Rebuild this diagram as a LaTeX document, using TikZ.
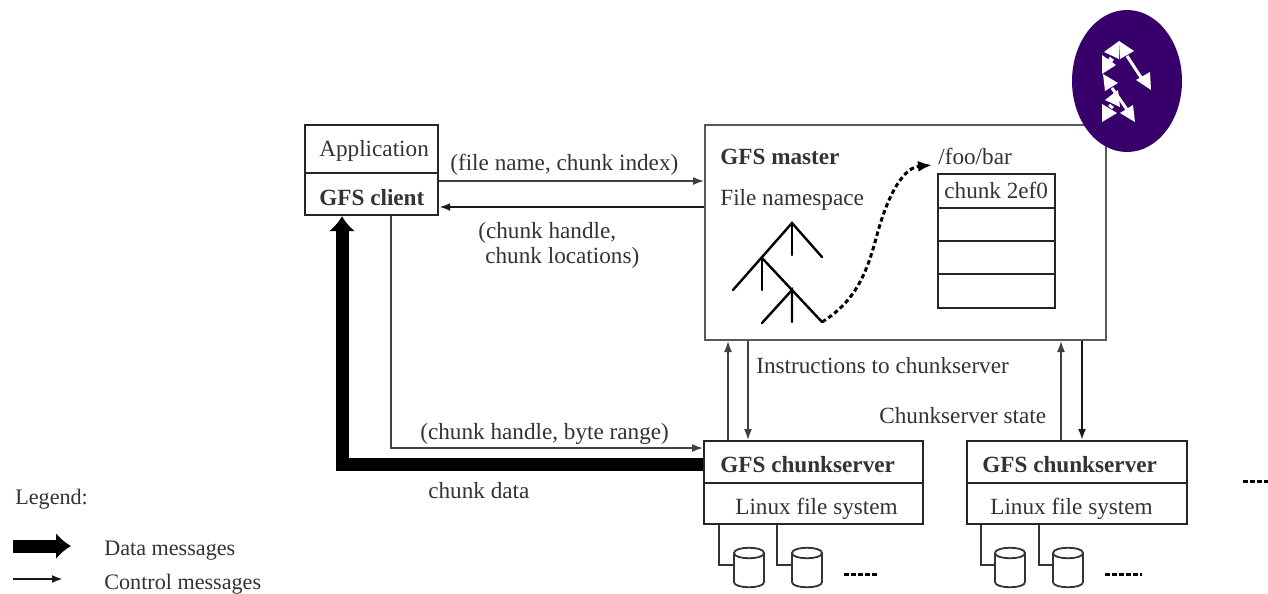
\documentclass[tikz,border=0pt]{standalone}
\usepackage{fontspec}
\setmainfont{Liberation Serif}
\usetikzlibrary{arrows.meta,calc}
\definecolor{logo}{HTML}{38006B}
\definecolor{ink}{HTML}{333333}
\def\u{0.02cm}
\tikzset{
  x=0.02cm,y=-0.02cm,
  boxs/.style={draw=black!85,line width=2.2*\u,fill=white,inner sep=0pt,anchor=north west,text=ink},
  txt/.style={text=ink,inner sep=0pt,anchor=west,font=\fontsize{13.2}{13}\selectfont},
  txb/.style={txt,font=\fontsize{13.2}{13}\selectfont\bfseries},
  leg/.style={txt,font=\fontsize{12.6}{13}\selectfont},
  ctl/.style={draw=black!75,line width=1.6*\u,-{Latex[length=11*\u,width=8*\u]}},
  ctlb/.style={ctl,draw=black!90,line width=2.4*\u},
  dat/.style={draw=black,line width=13*\u,-{Latex[length=15*\u,width=27*\u]}},
  wire/.style={draw=black!80,line width=2*\u},
  diskl/.style={draw=black!80,line width=1.8*\u,fill=white},
  diskn/.style={draw=none,inner sep=0pt,minimum width=30*\u,minimum height=39*\u},
  tree/.style={draw=black,line width=2.4*\u,line cap=round},
  dots/.style={draw=black,line width=3*\u,dash pattern=on 5*\u off 2*\u},
  wtri/.style={fill=white,draw=none},
  wline/.style={draw=white,line width=3*\u}
}
\newcommand{\diskat}[2]{% name, centre x
  \node[diskn] (#1) at (#2,567.5) {};
  \draw[diskl] (#2-15,553) -- (#2-15,582)
     .. controls (#2-15,589) and (#2+15,589) .. (#2+15,582)
     -- (#2+15,553)
     .. controls (#2+15,546) and (#2-15,546) .. (#2-15,553)
     .. controls (#2-15,560) and (#2+15,560) .. (#2+15,553);
}
\begin{document}
\begin{tikzpicture}
\useasboundingbox (0,0) rectangle (1268,593);
\fill[white] (0,0) rectangle (1268,593);
% boxes
\node[boxs,minimum width=133*\u,minimum height=48*\u] (app) at (304,124) {};
\node[boxs,minimum width=133*\u,minimum height=42*\u] (client) at (304,172) {};
\node[boxs,minimum width=401*\u,minimum height=215*\u,draw=black!65,line width=2*\u] (master) at (704,124) {};
\node[boxs,minimum width=219*\u,minimum height=42*\u] (cs1) at (703,440) {};
\node[boxs,minimum width=219*\u,minimum height=41*\u] (fs1) at (703,482) {};
\node[boxs,minimum width=220*\u,minimum height=42*\u] (cs2) at (966,440) {};
\node[boxs,minimum width=220*\u,minimum height=41*\u] (fs2) at (966,482) {};
% chunk table
\node[boxs,minimum width=117*\u,minimum height=34*\u] (r1) at (937,173) {};
\node[boxs,minimum width=117*\u,minimum height=33*\u] (r2) at (937,207) {};
\node[boxs,minimum width=117*\u,minimum height=33*\u] (r3) at (937,240) {};
\node[boxs,minimum width=117*\u,minimum height=34*\u] (r4) at (937,273) {};
% client-master
\coordinate (ya) at (0,181);
\coordinate (yb) at (0,207);
\draw[ctl] (client.east |- ya) -- (master.west |- ya);
\draw[ctlb] (master.west |- yb) -- (client.east |- yb);
% client-chunkserver
\coordinate (xc) at (391,0);
\coordinate (yc) at (0,448);
\coordinate (xd) at (342,0);
\coordinate (yd) at (0,464);
\draw[ctl] (xc |- client.south) -- (xc |- yc) -- (cs1.west |- yc);
\draw[dat] (cs1.west |- yd) -- (xd |- yd) -- (xd |- client.south);
% master-chunkserver
\coordinate (x1) at (728,0);
\coordinate (x2) at (748,0);
\coordinate (x3) at (1061,0);
\coordinate (x4) at (1082,0);
\draw[ctl] (x1 |- cs1.north) -- (x1 |- master.south);
\draw[ctl] (x2 |- master.south) -- (x2 |- cs1.north);
\draw[ctl] (x3 |- cs2.north) -- (x3 |- master.south);
\draw[ctlb] (x4 |- master.south) -- (x4 |- cs2.north);
% disks
\diskat{d1}{749}
\diskat{d2}{807}
\diskat{d3}{1010}
\diskat{d4}{1068}
\coordinate (yw) at (0,565);
\coordinate (w1) at (719,0);
\coordinate (w2) at (777,0);
\coordinate (w3) at (981,0);
\coordinate (w4) at (1039,0);
\draw[wire] (w1 |- fs1.south) -- (w1 |- yw) -- (d1.west |- yw);
\draw[wire] (w2 |- fs1.south) -- (w2 |- yw) -- (d2.west |- yw);
\draw[wire] (w3 |- fs2.south) -- (w3 |- yw) -- (d3.west |- yw);
\draw[wire] (w4 |- fs2.south) -- (w4 |- yw) -- (d4.west |- yw);
\draw[dots] (844,574) -- (878,574);
\draw[dots] (1105,574) -- (1142,574);
\draw[dots] (1243,481) -- (1268,481);
% tree
\draw[tree] (733,290) -- (792,223) -- (822,257);
\draw[tree] (792,223) -- (792,255);
\draw[tree] (762,258) -- (762,290);
\draw[tree] (762,258) -- (822,322);
\draw[tree] (762,323) -- (792,290) -- (792,322);
\draw[black,line width=3*\u,dash pattern=on 4.5*\u off 3*\u,-{Latex[length=14*\u,width=11*\u]}]
  (822,322) .. controls (858,300) and (868,268) .. (877,235)
  .. controls (885,205) and (900,168) .. (932,165);
% texts
\node[txt] (t0a) at (319,151) {Application};
\node[txb] (t0b) at (319,198) {GFS client};
\node[txt] (t0c) at (944,190) {chunk 2ef0};
\node[txt] (t1) at (450,165) {(file name, chunk index)};
\node[txt] (t2) at (478,233) {(chunk handle,};
\node[txt] (t3) at (485,258) {chunk locations)};
\node[txb] (t4) at (720,157) {GFS master};
\node[txt] (t5) at (720,200) {File namespace};
\node[txt] (t6) at (938,156) {/foo/bar};
\node[txt] (t7) at (756,366) {Instructions to chunkserver};
\node[txt] (t8) at (879,416) {Chunkserver state};
\node[txt] (t9) at (420,434) {(chunk handle, byte range)};
\node[txt] (t10) at (428,491) {chunk data};
\node[txb] (t11) at (720,465) {GFS chunkserver};
\node[txt] (t12) at (735,509) {Linux file system};
\node[txb] (t13) at (982,465) {GFS chunkserver};
\node[txt] (t14) at (990,509) {Linux file system};
% legend
\node[leg] (l0) at (15,499) {Legend:};
\node[leg] (l1) at (104,551) {Data messages};
\node[leg] (l2) at (104,584) {Control messages};
\coordinate (la) at (13,546);
\coordinate (lb) at (71,546);
\coordinate (lc) at (13,579);
\coordinate (ld) at (63,579);
\draw[dat] (la) -- (lb);
\draw[ctlb] (lc) -- (ld);
% logo
\fill[logo] (1127,81) ellipse [x radius=55,y radius=71];
\fill[wtri] (1104,52) -- (1119,41) -- (1119,59) -- cycle;
\fill[wtri] (1119,41) -- (1134,51) -- (1120,59) -- cycle;
\fill[wtri] (1102,55) -- (1116,65) -- (1102,74) -- cycle;
\fill[wtri] (1103,74) -- (1118,83) -- (1105,91) -- cycle;
\fill[wtri] (1105,100) -- (1118,90) -- (1120,107) -- cycle;
\fill[wtri] (1102,104) -- (1117,113) -- (1102,122) -- cycle;
\fill[wtri] (1120,113) -- (1133,105) -- (1135,122) -- cycle;
\fill[wtri] (1136,80) -- (1150,72) -- (1151,90) -- cycle;
\draw[wline] (1127,56) -- (1144,82);
\draw[wline] (1112,88) -- (1128,111);
\draw[wline] (1109,58) -- (1113,61);
\draw[wline] (1109,105) -- (1113,108);
\end{tikzpicture}
\end{document}
